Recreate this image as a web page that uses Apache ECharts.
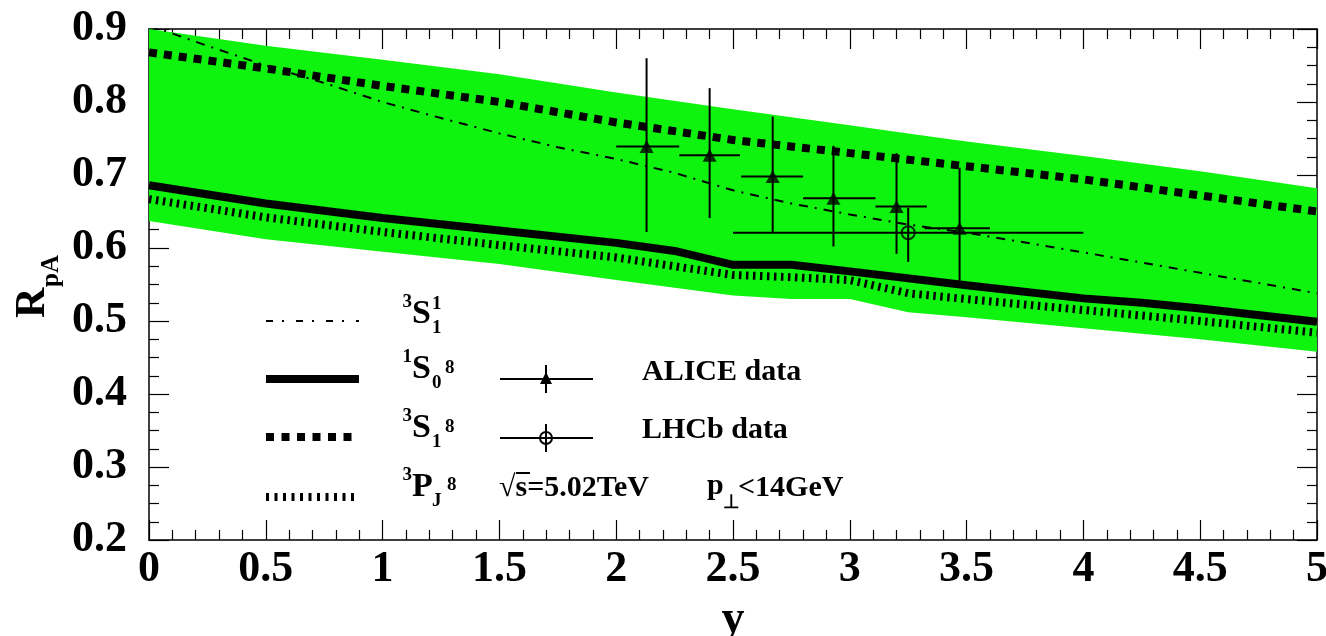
<!DOCTYPE html>
<html>
<head>
<meta charset="utf-8">
<script src="https://cdn.jsdelivr.net/npm/echarts@6/dist/echarts.min.js"></script>
<style>
  html, body { margin: 0; padding: 0; background: #fff; }
  #main { width: 1326px; height: 636px; }
</style>
</head>
<body>
<div id="main"></div>
<script>
var FONT = '"Liberation Serif", "Times New Roman", serif';

// green uncertainty band
var bandX    = [0, 0.5, 1, 1.5, 2, 2.5, 2.75, 3, 3.25, 3.5, 4, 4.5, 5];
var bandLow  = [0.637, 0.612, 0.595, 0.578, 0.556, 0.535, 0.530, 0.530, 0.512, 0.505, 0.490, 0.475, 0.458];
var bandHigh = [0.900, 0.877, 0.858, 0.838, 0.813, 0.790, 0.779, 0.768, 0.757, 0.746, 0.726, 0.705, 0.682];

// 3S1(1) dash-dot
var s11X = [0, 0.25, 0.5, 0.75, 1, 1.25, 1.5, 1.75, 2, 2.25, 2.5, 2.75, 3, 3.25, 3.5, 4, 4.5, 5];
var s11Y = [0.905, 0.877, 0.85, 0.826, 0.80, 0.778, 0.757, 0.738, 0.722, 0.703, 0.679, 0.661, 0.646, 0.632, 0.621, 0.594, 0.566, 0.538];

// 3S1(8) thick dashed
var s18X = [0, 0.5, 1, 1.5, 2, 2.5, 3, 3.5, 4, 4.5, 5];
var s18Y = [0.868, 0.846, 0.822, 0.800, 0.772, 0.748, 0.730, 0.712, 0.694, 0.672, 0.650];

// 1S0(8) solid
var s08X = [0, 0.5, 1, 1.5, 2, 2.25, 2.5, 2.75, 3, 3.5, 4, 4.25, 4.5, 5];
var s08Y = [0.686, 0.661, 0.641, 0.624, 0.607, 0.596, 0.577, 0.577, 0.568, 0.549, 0.531, 0.525, 0.517, 0.499];

// 3PJ(8) dotted
var pj8X = [0, 0.5, 1, 1.5, 2, 2.5, 2.75, 3, 3.25, 3.5, 4, 4.5, 5];
var pj8Y = [0.667, 0.642, 0.622, 0.604, 0.587, 0.563, 0.560, 0.556, 0.538, 0.530, 0.515, 0.500, 0.484];

// ALICE data
var aliceX   = [2.13, 2.40, 2.67, 2.93, 3.20, 3.47];
var aliceY   = [0.739, 0.727, 0.698, 0.668, 0.657, 0.627];
var aliceXLo = [2.00, 2.27, 2.535, 2.80, 3.11, 3.32];
var aliceXHi = [2.27, 2.53, 2.80, 3.11, 3.33, 3.60];
var aliceYLo = [0.622, 0.641, 0.622, 0.602, 0.592, 0.555];
var aliceYHi = [0.860, 0.819, 0.780, 0.740, 0.730, 0.710];

// LHCb data
var lhcbX   = [3.25];
var lhcbY   = [0.621];
var lhcbXLo = [2.50];
var lhcbXHi = [4.00];
var lhcbYLo = [0.581];
var lhcbYHi = [0.655];

function zip(xs, ys) {
    return xs.map(function (x, i) { return [x, ys[i]]; });
}
function errData(x, y, xlo, xhi, ylo, yhi) {
    return x.map(function (v, i) { return [v, y[i], xlo[i], xhi[i], ylo[i], yhi[i]]; });
}
function errRender(params, api) {
    var l = api.coord([api.value(2), api.value(1)]);
    var r = api.coord([api.value(3), api.value(1)]);
    var lo = api.coord([api.value(0), api.value(4)]);
    var hi = api.coord([api.value(0), api.value(5)]);
    var st = { stroke: '#000', lineWidth: 2 };
    return {
        type: 'group',
        children: [
            { type: 'line', shape: { x1: l[0], y1: l[1], x2: r[0], y2: r[1] }, style: st },
            { type: 'line', shape: { x1: lo[0], y1: lo[1], x2: hi[0], y2: hi[1] }, style: st }
        ]
    };
}

function lineSeries(name, xs, ys, width, dash) {
    return {
        name: name,
        type: 'line',
        data: zip(xs, ys),
        showSymbol: false,
        symbol: 'none',
        z: 3,
        lineStyle: { color: '#000', width: width, type: dash, cap: 'butt' }
    };
}

function txt(x, y, s, size, align) {
    return {
        type: 'text', z: 100,
        style: {
            x: x, y: y, text: s, fill: '#000',
            font: 'bold ' + size + 'px ' + FONT,
            textAlign: align || 'left', align: align || 'left',
            textVerticalAlign: 'middle', verticalAlign: 'middle'
        }
    };
}
// spectroscopic label like ^3S_1^8
function specLabel(yc, pre, base, sub, sup, supX, supY) {
    return [
        txt(412, yc, base, 34, 'left'),
        txt(412, yc - 12, pre, 19, 'right'),
        txt(432, yc + 14, sub, 19, 'left'),
        txt(supX, yc + supY, sup, 19, 'left')
    ];
}
function gline(x1, y1, x2, y2, w, dash) {
    return {
        type: 'line', z: 100,
        shape: { x1: x1, y1: y1, x2: x2, y2: y2 },
        style: { stroke: '#000', lineWidth: w, lineDash: dash || null, lineCap: 'butt' }
    };
}

var legendEls = [].concat(
    [gline(266, 321, 359, 321, 2, [7, 9, 2, 12]),
     gline(266, 379, 359, 379, 8),
     gline(266, 437, 359, 437, 8, [8, 7.5]),
     gline(266, 497, 359, 497, 8, [3, 5.5])],
    specLabel(314, '3', 'S', '1', '1', 432, -10),
    specLabel(369, '1', 'S', '0', '8', 445, -1),
    specLabel(428, '3', 'S', '1', '8', 445, -1),
    specLabel(487, '3', 'P', 'J', '8', 447, -2),
    [gline(500, 379, 593, 379, 2),
     gline(546, 365, 546, 393, 2),
     { type: 'polygon', z: 100, shape: { points: [[546, 372], [540, 384], [552, 384]] }, style: { fill: '#000' } },
     txt(642, 372, 'ALICE data', 30),
     gline(500, 438, 593, 438, 2),
     gline(546, 424, 546, 452, 2),
     { type: 'circle', z: 100, shape: { cx: 546, cy: 438, r: 6 }, style: { fill: 'none', stroke: '#000', lineWidth: 2 } },
     txt(642, 430, 'LHCb data', 30),
     txt(499, 488, '√s=5.02TeV', 30),
     gline(516, 473, 530, 473, 2),
     txt(707, 486, 'p', 30),
     txt(723, 503, '⊥', 19),
     txt(738, 488, '<14GeV', 30),
     {
         type: 'group', x: 33, y: 318, rotation: Math.PI / 2, z: 100,
         children: [
             txt(0, 0, 'R', 42),
             txt(31, 19, 'pA', 25)
         ]
     }]
);

var chart = echarts.init(document.getElementById('main'));

function xAx(pos, labels) {
    return {
        type: 'value', position: pos, min: 0, max: 5, interval: 0.5,
        axisLine: { onZero: false, lineStyle: { color: '#000', width: 1.5 } },
        axisTick: { inside: true, length: 20, lineStyle: { color: '#000', width: 1.2 } },
        minorTick: { show: true, splitNumber: 5, length: 10, lineStyle: { color: '#000', width: 1.2 } },
        splitLine: { show: false },
        axisLabel: { show: labels, margin: 8, color: '#000', fontFamily: FONT, fontWeight: 'bold', fontSize: 44 },
        name: labels ? 'y' : '',
        nameLocation: 'middle', nameGap: 47,
        nameTextStyle: { color: '#000', fontFamily: FONT, fontWeight: 'bold', fontSize: 46 }
    };
}
function yAx(pos, labels) {
    return {
        type: 'value', position: pos, min: 0.2, max: 0.9, interval: 0.1,
        axisLine: { onZero: false, lineStyle: { color: '#000', width: 1.5 } },
        axisTick: { inside: true, length: 20, lineStyle: { color: '#000', width: 1.2 } },
        minorTick: { show: true, splitNumber: 4, length: 10, lineStyle: { color: '#000', width: 1.2 } },
        splitLine: { show: false },
        axisLabel: {
            show: labels, margin: 22, color: '#000', fontFamily: FONT, fontWeight: 'bold', fontSize: 44,
            formatter: function (v) { return v.toFixed(1); }
        }
    };
}

var option = {
    backgroundColor: '#fff',
    animation: false,
    grid: { left: 149, right: 9, top: 29, bottom: 96, outerBoundsMode: 'none', containLabel: false },
    xAxis: [xAx('bottom', true), xAx('top', false)],
    yAxis: [yAx('left', true), yAx('right', false)],
    graphic: legendEls,
    series: [
        {
            type: 'custom',
            z: 1,
            silent: true,
            clip: true,
            data: bandX.map(function (x, i) { return [x, bandLow[i], bandHigh[i]]; }),
            encode: { x: 0, y: [1, 2] },
            renderItem: function (params, api) {
                if (params.dataIndex !== 0) return;
                var pts = [];
                for (var i = 0; i < bandX.length; i++) pts.push(api.coord([bandX[i], bandHigh[i]]));
                for (var j = bandX.length - 1; j >= 0; j--) pts.push(api.coord([bandX[j], bandLow[j]]));
                return { type: 'polygon', shape: { points: pts }, style: { fill: '#0ef40e' } };
            }
        },
        lineSeries('3S1(1)', s11X, s11Y, 2, [9, 7, 2, 7]),
        lineSeries('1S0(8)', s08X, s08Y, 8, 'solid'),
        lineSeries('3S1(8)', s18X, s18Y, 8, [8, 7]),
        lineSeries('3PJ(8)', pj8X, pj8Y, 8, [2.5, 4.5]),
        {
            name: 'ALICE data', type: 'custom', z: 5,
            data: errData(aliceX, aliceY, aliceXLo, aliceXHi, aliceYLo, aliceYHi),
            encode: { x: [0, 2, 3], y: [1, 4, 5] },
            renderItem: errRender
        },
        {
            name: 'ALICE marker', type: 'scatter', z: 6,
            symbol: 'triangle', symbolSize: [14, 13],
            itemStyle: { color: '#000' },
            data: zip(aliceX, aliceY)
        },
        {
            name: 'LHCb data', type: 'custom', z: 5,
            data: errData(lhcbX, lhcbY, lhcbXLo, lhcbXHi, lhcbYLo, lhcbYHi),
            encode: { x: [0, 2, 3], y: [1, 4, 5] },
            renderItem: errRender
        },
        {
            name: 'LHCb marker', type: 'scatter', z: 6,
            symbol: 'circle', symbolSize: 13,
            itemStyle: { color: 'rgba(0,0,0,0)', borderColor: '#000', borderWidth: 2 },
            data: zip(lhcbX, lhcbY)
        }
    ]
};

chart.setOption(option);
window.addEventListener('resize', function () {
    chart.resize();
});
</script>
</body>
</html>
